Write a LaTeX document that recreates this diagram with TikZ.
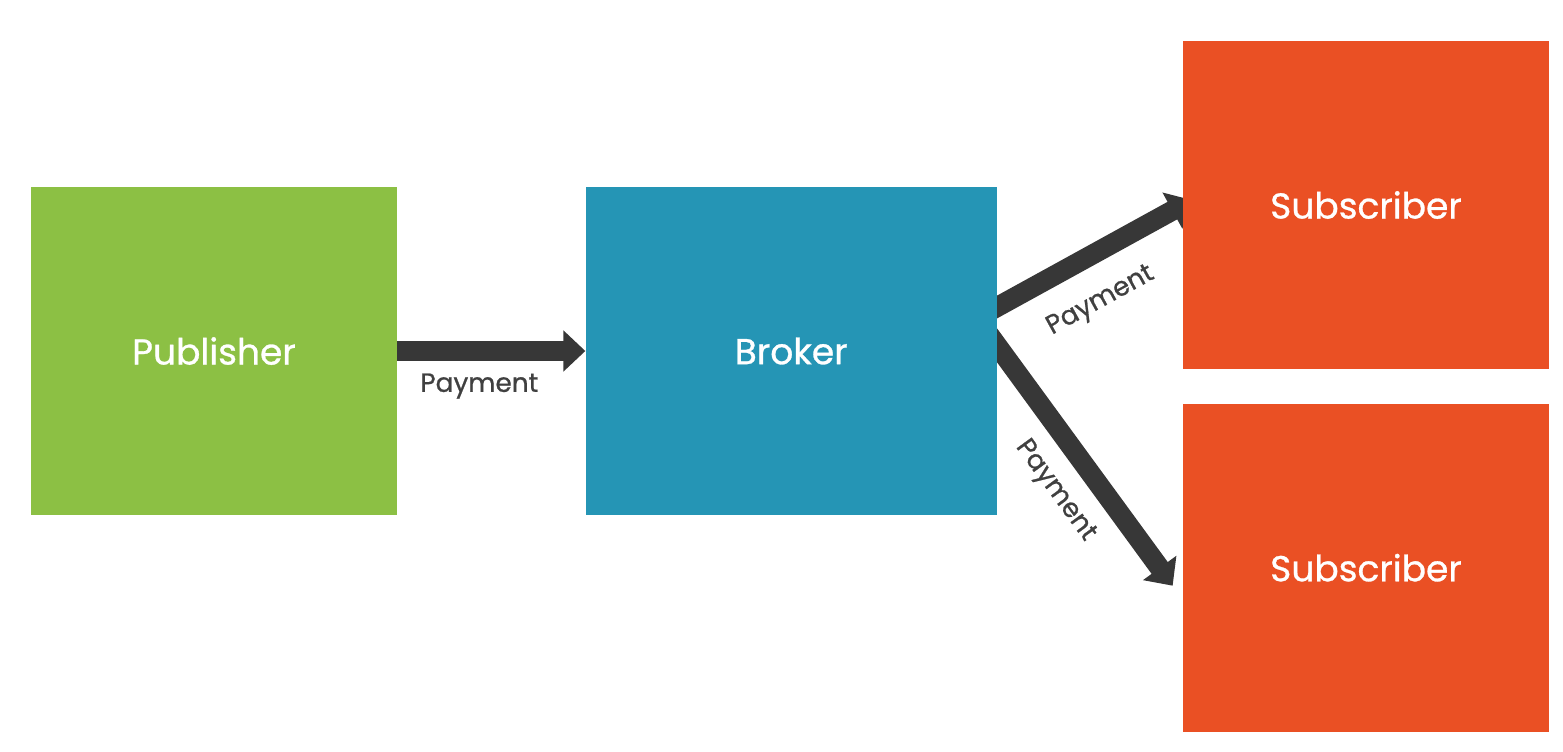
\documentclass[tikz,border=0pt]{standalone}
\usepackage{fontspec}
\setmainfont{Poppins}
\newfontfamily\labelfont[FakeBold=0.8]{Poppins}
\usetikzlibrary{arrows.meta,positioning,backgrounds}
\definecolor{pubgreen}{RGB}{140,192,68}
\definecolor{brokerblue}{RGB}{37,149,181}
\definecolor{subred}{RGB}{234,80,36}
\definecolor{flowgray}{RGB}{55,55,55}
\definecolor{labelgray}{RGB}{64,64,64}

\begin{document}
\begin{tikzpicture}[
    block/.style={minimum width=7.32cm, minimum height=6.56cm, inner sep=0pt, text=white, font=\labelfont\fontsize{20.5}{24}\selectfont},
    flow/.style={-{Triangle[length=0.44cm, width=0.8cm]}, line width=0.4cm, draw=flowgray},
    lbl/.style={font=\labelfont\fontsize{15}{18}\selectfont, text=labelgray, inner sep=0pt}
]
    \useasboundingbox (0,0) rectangle (31.26,-15.04);

    % Blocks
    \node[block, fill=pubgreen] (publisher) at (4.28,-7.02) {Publisher};
    \node[block, fill=brokerblue, minimum width=8.22cm, right=3.76cm of publisher] (broker) {Broker};
    \node[block, fill=subred] (subtop) at (27.32,-4.10) {Subscriber};
    \node[block, fill=subred, below=0.68cm of subtop] (subbottom) {Subscriber};

    % Arrow ends
    \coordinate (fork) at ([shift={(-0.4,0.66)}]broker.east);
    \coordinate (tiptop) at ([shift={(0.18,0.10)}]subtop.west);
    \coordinate (tipbottom) at ([shift={(-0.2,-0.36)}]subbottom.west);

    % Arrows
    \begin{scope}[on background layer]
        \draw[flow] (publisher) -- node[lbl, pos=0.436, below=0.25cm] {Payment} (broker);
        \draw[flow] (fork) -- node[lbl, pos=0.476, sloped, below=0.45cm] {Payment} (tiptop);
        \draw[flow] (fork) -- node[lbl, pos=0.56, sloped, below=0.33cm] {Payment} (tipbottom);
    \end{scope}
\end{tikzpicture}
\end{document}
